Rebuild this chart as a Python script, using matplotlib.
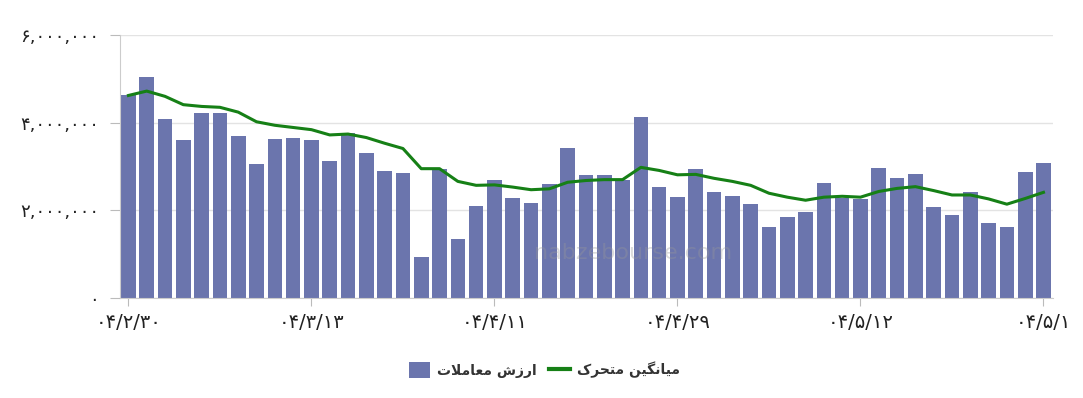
import matplotlib.pyplot as plt
import numpy as np
from matplotlib.patches import Patch
from matplotlib.lines import Line2D

# ارزش معاملات روزانه (51 روز کاری)
arzesh = [4.62, 5.05, 4.08, 3.60, 4.21, 4.21, 3.70, 3.06, 3.63, 3.66,
          3.61, 3.12, 3.77, 3.30, 2.90, 2.85, 0.94, 2.94, 1.34, 2.10,
          2.69, 2.29, 2.17, 2.60, 3.43, 2.81, 2.81, 2.70, 4.13, 2.53,
          2.31, 2.95, 2.41, 2.32, 2.14, 1.62, 1.85, 1.96, 2.62, 2.28,
          2.26, 2.96, 2.74, 2.82, 2.07, 1.90, 2.42, 1.72, 1.63, 2.88,
          3.08]
# میانگین متحرک
miangin = [4.62, 4.72, 4.60, 4.41, 4.37, 4.35, 4.24, 4.02, 3.94, 3.89,
           3.84, 3.72, 3.74, 3.66, 3.53, 3.41, 2.95, 2.95, 2.66, 2.57,
           2.58, 2.53, 2.47, 2.49, 2.64, 2.68, 2.70, 2.70, 2.98, 2.91,
           2.81, 2.82, 2.73, 2.66, 2.57, 2.39, 2.30, 2.23, 2.30, 2.32,
           2.30, 2.43, 2.50, 2.54, 2.45, 2.35, 2.35, 2.26, 2.14, 2.27,
           2.41]
arzesh = np.array(arzesh) * 1e6
miangin = np.array(miangin) * 1e6

tick_pos = [0, 10, 20, 30, 40, 50]
tick_lbl = ["۰۴/۲/۳۰", "۰۴/۳/۱۳", "۰۴/۴/۱۱", "۰۴/۴/۲۹", "۰۴/۵/۱۲", "۰۴/۵/۱"]
y_ticks = [0, 2e6, 4e6, 6e6]
y_lbl = ["۰", "۲,۰۰۰,۰۰۰", "۴,۰۰۰,۰۰۰", "۶,۰۰۰,۰۰۰"]

# متن فارسی با حروف شکل‌یافته (matplotlib خودش شکل‌دهی راست‌به‌چپ ندارد)
lbl_arzesh = "\ufe95\ufefc\ufee3\ufe8e\ufecc\ufee3 \ufeb5\ufeaf\ufead\ufe8d"      # ارزش معاملات
lbl_miangin = "\ufb8e\ufeae\ufea4\ufe98\ufee3 \ufee6\ufbff\ufb95\ufee7\ufe8e\ufbff\ufee3"  # میانگین متحرک

bar_col = "#6b75ad"
line_col = "#168016"

plt.rcParams["font.family"] = ["DejaVu Sans"]

fig = plt.figure(figsize=(10.83, 3.98), dpi=100)
ax = fig.add_axes([0.1108, 0.2513, 0.8615, 0.6608])

x = np.arange(len(arzesh))
ax.bar(x, arzesh, width=0.8, color=bar_col, zorder=2)
ax.plot(x, miangin, color=line_col, linewidth=2.2, zorder=3)

ax.set_xlim(-0.46, 50.52)
ax.set_ylim(0, 6e6)
ax.set_yticks(y_ticks)
ax.set_yticklabels(y_lbl, fontsize=13, color="#222222")
ax.set_xticks(tick_pos)
ax.set_xticklabels(tick_lbl, fontsize=14, color="#222222")
ax.tick_params(axis="y", length=7, color="#bbbbbb", pad=8)
ax.tick_params(axis="x", length=6, color="#bbbbbb", pad=5)

ax.grid(axis="y", color="#e3e3e3", linewidth=1, zorder=0)
for s in ["top", "right"]:
    ax.spines[s].set_visible(False)
ax.spines["left"].set_color("#cccccc")
ax.spines["bottom"].set_color("#cccccc")

# واترمارک
ax.text(0.55, 0.17, "nabzebourse.com", transform=ax.transAxes, ha="center",
        va="center", fontsize=16, color="#999999", alpha=0.35, zorder=4)

handles = [Patch(facecolor=bar_col, edgecolor="none"),
           Line2D([0], [0], color=line_col, linewidth=3)]
fig.legend(handles, [lbl_arzesh, lbl_miangin], loc="center",
           bbox_to_anchor=(0.503, 0.07), ncol=2, frameon=False,
           prop={"size": 10, "weight": "bold"}, labelcolor="#333333",
           handlelength=1.5, handleheight=1.3, columnspacing=0.9,
           handletextpad=0.5)

fig.savefig("out.png", dpi=100)
